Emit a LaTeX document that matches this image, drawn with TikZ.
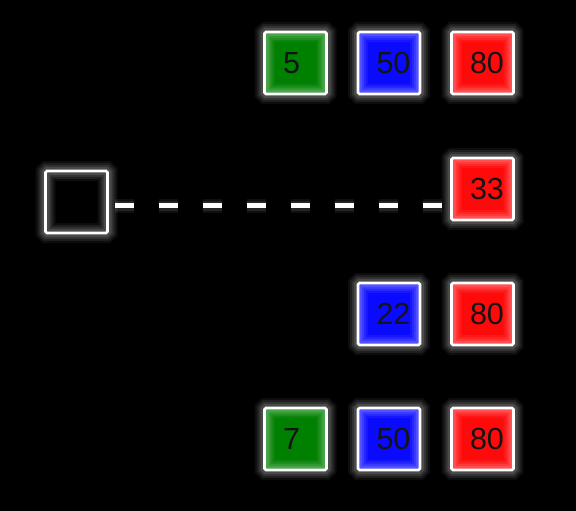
\documentclass[tikz,border=0pt]{standalone}
\usepackage{fontspec}
\setmainfont{Liberation Sans}
\usetikzlibrary{calc}
\definecolor{bxgreen}{RGB}{0,128,0}
\definecolor{bxblue}{RGB}{10,10,255}
\definecolor{bxred}{RGB}{255,10,10}
\definecolor{txtc}{RGB}{20,20,20}
\tikzset{
  glow/.style={
    postaction={draw=white, line width=20pt, opacity=0.05},
    postaction={draw=white, line width=16pt, opacity=0.07},
    postaction={draw=white, line width=12pt, opacity=0.09},
    postaction={draw=white, line width=8pt, opacity=0.12}},
  box/.style={rectangle, draw=white, line width=2.6pt, rounded corners=1.5pt,
    minimum size=62pt, inner xsep=18.5pt, inner ysep=0pt,
    font=\fontsize{30.5}{30.5}\selectfont, text=txtc, glow},
  gbox/.style={box, fill=bxgreen},
  bbox/.style={box, fill=bxblue},
  rbox/.style={box, fill=bxred},
  ebox/.style={box, fill=black},
  dashline/.style={draw=white, line width=5pt, dash pattern=on 19pt off 25pt, dash phase=39pt,
    postaction={draw=white, line width=14pt, opacity=0.06, dash pattern=on 19pt off 25pt, dash phase=39pt},
    postaction={draw=white, line width=10pt, opacity=0.09, dash pattern=on 19pt off 25pt, dash phase=39pt}}
}
\newcommand{\num}[1]{\hbox to 25pt{#1\hss}}
\begin{document}
\begin{tikzpicture}[x=1pt,y=-1pt]
\fill[black] (0,0) rectangle (576,511);
\useasboundingbox (0,0) rectangle (576,511);
% row 1
\node[gbox] (g1) at (295.5,63) {\num{5}};
\node[bbox] (b1) at (389,63) {\num{50}};
\node[rbox] (r1) at (482.5,63) {\num{80}};
% row 2
\node[ebox] (L) at (76.5,202) {\num{}};
\node[rbox] (r2) at (482.5,189) {\num{33}};
% row 3
\node[bbox] (b3) at (389,314) {\num{22}};
\node[rbox] (r3) at (482.5,314) {\num{80}};
% row 4
\node[gbox] (g4) at (295.5,439) {\num{7}};
\node[bbox] (b4) at (389,439) {\num{50}};
\node[rbox] (r4) at (482.5,439) {\num{80}};
% dashed connector
\draw[dashline] ($(L.east)+(1.3,3.6)$) -- ($(L.east -| r2.west)+(-1.3,3.6)$);
\end{tikzpicture}
\end{document}
